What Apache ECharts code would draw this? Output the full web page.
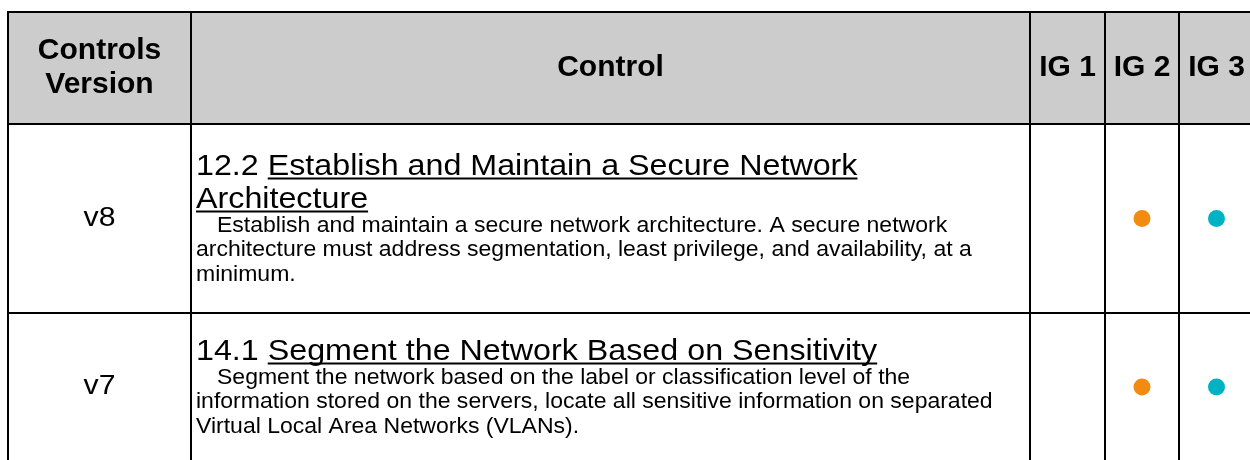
<!DOCTYPE html>
<html><head><meta charset="utf-8">
<script src="https://cdn.jsdelivr.net/npm/echarts@6/dist/echarts.min.js"></script>
<style>html,body{margin:0;padding:0;background:#fff}#c{width:1250px;height:460px}</style>
</head><body><div id="c"></div>
<script>
// ---- data ----
const headers = ['Controls\nVersion', 'Control', 'IG 1', 'IG 2', 'IG 3'];
const versions = ['v8', 'v7'];
const controlIds = ['12.2', '14.1'];
const controlNames = ['Establish and Maintain a Secure Network Architecture', 'Segment the Network Based on Sensitivity'];
const controlDescs = [
  'Establish and maintain a secure network architecture. A secure network architecture must address segmentation, least privilege, and availability, at a minimum.',
  'Segment the network based on the label or classification level of the information stored on the servers, locate all sensitive information on separated Virtual Local Area Networks (VLANs).'
];
const ig1 = [false, false];
const ig2 = [true, true];
const ig3 = [true, true];
const igColors = ['#2E7BCF', '#F28B0F', '#00B2C2'];

// ---- layout ----
const colEdges = [8, 191, 1030, 1105, 1179, 1254];
const rowEdges = [12, 124, 313, 461];
const FONT = '"Liberation Sans", Arial, Helvetica, sans-serif';
const ST = {
  header: { size: 30, lh: 34 },
  version: { size: 27, sx: 1.12 },
  title: { size: 30, sx: 1.075, lh: 33 },
  desc: { size: 21.5, sx: 1.07, lh: 24.5, indent: 21 },
  gap: -2, padL: 5, padR: 12
};

const mctx = document.createElement('canvas').getContext('2d');
function measure(t, size, weight) {
  mctx.font = (weight || 'normal') + ' ' + size + 'px ' + FONT;
  return mctx.measureText(t).width;
}
function wrap(words, st, maxW, indent) {
  const lines = []; let cur = [];
  words.forEach(w => {
    const test = cur.concat([w]).map(o => o.t).join(' ');
    const width = measure(test, st.size) * st.sx + (lines.length === 0 ? (indent || 0) : 0);
    if (width > maxW && cur.length) { lines.push(cur); cur = [w]; } else cur.push(w);
  });
  if (cur.length) lines.push(cur);
  return lines;
}

const chart = echarts.init(document.getElementById('c'));

function renderHeader(params, api) {
  const i = api.value(0);
  const p0 = api.coord([colEdges[i], rowEdges[0]]);
  const p1 = api.coord([colEdges[i + 1], rowEdges[1]]);
  return {
    type: 'group',
    children: [
      { type: 'rect', shape: { x: p0[0], y: p0[1], width: p1[0] - p0[0], height: p1[1] - p0[1] }, style: { fill: '#cccccc' } },
      { type: 'text', x: (p0[0] + p1[0]) / 2, y: (p0[1] + p1[1]) / 2,
        style: { text: headers[i], fontSize: ST.header.size, fontWeight: 'bold', fontFamily: FONT, fill: '#000',
          align: 'center', verticalAlign: 'middle', lineHeight: ST.header.lh } }
    ]
  };
}

function renderRow(params, api) {
  const r = api.value(0);
  const top = api.coord([colEdges[0], rowEdges[r + 1]]);
  const bot = api.coord([colEdges[0], rowEdges[r + 2]]);
  const c1 = api.coord([colEdges[1], 0])[0];
  const c2 = api.coord([colEdges[2], 0])[0];
  const children = [];
  const cy = (top[1] + bot[1]) / 2;
  children.push({ type: 'text', x: (top[0] + c1) / 2, y: cy, scaleX: ST.version.sx,
    style: { text: versions[r], fontSize: ST.version.size, fontFamily: FONT, fill: '#000', align: 'center', verticalAlign: 'middle' } });

  const x0 = c1 + ST.padL;
  const maxW = c2 - x0 - ST.padR;
  const tWords = [{ t: controlIds[r], u: false }].concat(controlNames[r].split(' ').map(t => ({ t, u: true })));
  const tLines = wrap(tWords, ST.title, maxW, 0);
  const dWords = controlDescs[r].split(' ').map(t => ({ t }));
  const dLines = wrap(dWords, ST.desc, maxW, ST.desc.indent);
  const totalH = tLines.length * ST.title.lh + ST.gap + dLines.length * ST.desc.lh;
  let y = cy - totalH / 2;
  tLines.forEach(line => {
    const txt = line.map(o => o.t).join(' ');
    const ym = y + ST.title.lh / 2;
    children.push({ type: 'text', x: x0, y: ym, scaleX: ST.title.sx,
      style: { text: txt, fontSize: ST.title.size, fontFamily: FONT, fill: '#000', align: 'left', verticalAlign: 'middle' } });
    const ui = line.findIndex(o => o.u);
    if (ui >= 0) {
      const pre = ui > 0 ? line.slice(0, ui).map(o => o.t).join(' ') + ' ' : '';
      const sx0 = x0 + measure(pre, ST.title.size) * ST.title.sx;
      const sx1 = x0 + measure(txt, ST.title.size) * ST.title.sx;
      const uy = ym + ST.title.size * 0.36 + 1.5;
      children.push({ type: 'line', shape: { x1: sx0, y1: uy, x2: sx1, y2: uy }, style: { stroke: '#000', lineWidth: 2 } });
    }
    y += ST.title.lh;
  });
  y += ST.gap;
  dLines.forEach((line, li) => {
    const txt = line.map(o => o.t).join(' ');
    children.push({ type: 'text', x: x0 + (li === 0 ? ST.desc.indent : 0), y: y + ST.desc.lh / 2, scaleX: ST.desc.sx,
      style: { text: txt, fontSize: ST.desc.size, fontFamily: FONT, fill: '#000', align: 'left', verticalAlign: 'middle' } });
    y += ST.desc.lh;
  });
  return { type: 'group', children };
}

function renderGrid(params, api) {
  const children = [];
  const yT = api.coord([0, rowEdges[0]])[1], yB = api.coord([0, rowEdges[rowEdges.length - 1]])[1];
  const xL = api.coord([colEdges[0], 0])[0], xR = api.coord([colEdges[colEdges.length - 1], 0])[0];
  colEdges.forEach(cx => { const x = api.coord([cx, 0])[0];
    children.push({ type: 'line', shape: { x1: x, y1: yT, x2: x, y2: yB }, style: { stroke: '#000', lineWidth: 2 } }); });
  rowEdges.forEach(ry => { const yy = api.coord([0, ry])[1];
    children.push({ type: 'line', shape: { x1: xL - 1, y1: yy, x2: xR + 1, y2: yy }, style: { stroke: '#000', lineWidth: 2 } }); });
  return { type: 'group', children };
}

const igs = [ig1, ig2, ig3];
const igSeries = igs.map((arr, k) => ({
  type: 'scatter', name: headers[k + 2], z: 10,
  symbol: 'circle', symbolSize: 17,
  itemStyle: { color: igColors[k], opacity: 1 },
  data: arr.map((v, r) => v ? [(colEdges[k + 2] + colEdges[k + 3]) / 2, (rowEdges[r + 1] + rowEdges[r + 2]) / 2] : null).filter(d => d)
}));

chart.setOption({
  animation: false,
  grid: { left: 0, right: 0, top: 0, bottom: 0 },
  xAxis: { type: 'value', min: 0, max: 1250, show: false },
  yAxis: { type: 'value', min: 0, max: 460, inverse: true, show: false },
  series: [
    { type: 'custom', name: 'header', z: 1, renderItem: renderHeader, data: headers.map((h, i) => [i]), silent: true },
    { type: 'custom', name: 'rows', z: 2, renderItem: renderRow, data: versions.map((v, i) => [i]), silent: true },
    { type: 'custom', name: 'grid', z: 5, renderItem: renderGrid, data: [[0]], silent: true }
  ].concat(igSeries)
});
</script>
</body></html>
